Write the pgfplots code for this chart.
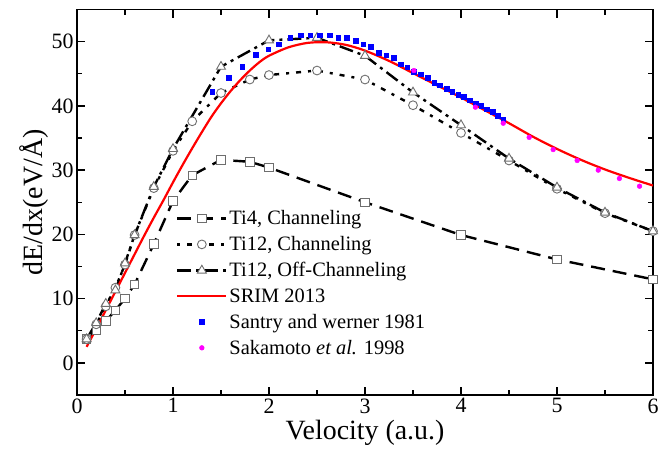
\documentclass[border=0pt]{standalone}
\usepackage{fontspec}
\setmainfont{Liberation Serif}
\usepackage{pgfplots}
\pgfplotsset{compat=1.18}
\definecolor{mkgray}{RGB}{110,110,110}
\definecolor{srimred}{RGB}{255,0,0}
\definecolor{santry}{RGB}{0,0,255}
\definecolor{saka}{RGB}{255,0,255}
\pgfplotsset{myleg/.style={legend image code/.code={\draw[mark repeat=2,mark phase=2] plot coordinates {(0cm,0cm)(0.86cm,0cm)(1.72cm,0cm)};}}}
\begin{document}
\begin{tikzpicture}
\path[use as bounding box] (-77bp,-58bp) rectangle (592bp,395bp);
\begin{axis}[
  scale only axis,
  width=576bp, height=385.5bp,
  xmin=0, xmax=6, ymin=-5, ymax=55,
  xtick={0,1,...,6}, ytick={0,10,...,50},
  minor x tick num=1, minor y tick num=1,
  tick align=inside,
  major tick length=8bp, minor tick length=5bp,
  axis line style={line width=1.6bp},
  every tick/.style={line width=1.3bp, black},
  /pgf/number format/assume math mode=true,
  tick label style={font=\fontsize{22}{24}\selectfont},
  label style={font=\fontsize{28}{30}\selectfont},
  xlabel={Velocity (a.u.)},
  ylabel={dE/dx(eV/Å)},
  xlabel style={at={(axis description cs:0.5,0)}, anchor=north, yshift=-22bp},
  ylabel style={yshift=-4bp},
  legend style={at={(0.172,0.484)}, anchor=north west, draw=none, fill=none,
    font=\fontsize{20.5}{23}\selectfont, row sep=6.3bp, inner sep=0pt},
  legend cell align=left,
  clip=true,
]
\addplot[myleg, black, line width=2.4bp, dash pattern=on 14bp off 8bp,
  mark=square*, mark size=4.2bp, mark options={solid, fill=white, draw=mkgray, line width=0.9bp}]
coordinates {(0.1,3.7)(0.2,5.1)(0.3,6.5)(0.4,8.2)(0.5,10.0)(0.6,12.2)(0.8,18.5)(1.0,25.2)(1.2,29.2)(1.5,31.6)(1.8,31.3)(2.0,30.4)(3.0,25.0)(4.0,19.9)(5.0,16.1)(6.0,13.0)};
\addlegendentry{Ti4, Channeling}
\addplot[myleg, black, line width=2.4bp, dash pattern=on 3bp off 7bp on 5bp off 7bp,
  mark=*, mark size=4.4bp, mark options={solid, fill=white, draw=mkgray, line width=0.9bp}]
coordinates {(0.1,3.7)(0.2,6.0)(0.3,8.8)(0.4,11.7)(0.5,15.3)(0.6,19.9)(0.8,27.2)(1.0,33.0)(1.2,37.6)(1.5,42.0)(1.8,44.1)(2.0,44.8)(2.5,45.5)(3.0,44.1)(3.5,40.1)(4.0,35.8)(4.5,31.5)(5.0,27.1)(5.5,23.3)(6.0,20.5)};
\addlegendentry{Ti12, Channeling}
\addplot[myleg, black, line width=2.4bp, dash pattern=on 14bp off 5bp on 3bp off 5bp,
  mark=triangle*, mark size=5.2bp, mark options={solid, fill=white, draw=mkgray, line width=0.9bp}]
coordinates {(0.1,3.7)(0.2,6.2)(0.3,9.2)(0.4,11.3)(0.5,15.5)(0.6,19.9)(0.8,27.4)(1.0,33.3)(1.5,46.1)(2.0,50.2)(2.5,50.6)(3.0,47.8)(3.5,42.1)(4.0,37.0)(4.5,31.8)(5.0,27.3)(5.5,23.4)(6.0,20.5)};
\addlegendentry{Ti12, Off-Channeling}
\addplot[myleg, srimred, line width=2.2bp, smooth]
coordinates {(0.1,2.5)(0.2,5.3)(0.3,8.2)(0.4,11.1)(0.5,14.0)(0.6,16.9)(0.7,19.8)(0.8,22.6)(0.9,25.3)(1.0,28.1)(1.1,30.8)(1.2,33.4)(1.3,35.9)(1.4,38.3)(1.5,40.4)(1.6,42.3)(1.7,44.0)(1.8,45.5)(1.9,46.8)(2.0,47.8)(2.2,49.1)(2.4,49.8)(2.6,49.9)(2.8,49.5)(3.0,48.6)(3.25,47.0)(3.5,45.1)(3.75,43.2)(4.0,41.3)(4.25,39.3)(4.5,37.3)(4.75,35.2)(5.0,33.3)(5.25,31.6)(5.5,30.1)(5.75,28.8)(6.0,27.6)};
\addlegendentry{SRIM 2013}
\addplot[myleg, only marks, mark=square*, mark size=2.3bp, color=santry]
coordinates {(1.41,42.2)(1.58,44.4)(1.72,46.1)(1.86,48.0)(1.99,48.8)(2.10,49.6)(2.22,50.6)(2.33,51.0)(2.43,51.0)(2.53,51.0)(2.63,51.0)(2.72,50.6)(2.81,50.6)(2.90,50.1)(2.98,49.6)(3.06,49.2)(3.14,48.3)(3.22,47.9)(3.30,47.5)(3.37,46.5)(3.44,46.0)(3.51,45.3)(3.58,44.9)(3.65,44.4)(3.72,43.6)(3.78,43.2)(3.85,42.7)(3.91,42.2)(3.97,41.7)(4.03,41.4)(4.09,40.9)(4.15,40.4)(4.21,40.0)(4.27,39.5)(4.33,39.1)(4.38,38.5)(4.44,37.9)};
\addlegendentry{Santry and werner 1981}
\addplot[myleg, only marks, mark=*, mark size=2.4bp, color=saka]
coordinates {(3.51,45.5)(4.15,39.8)(4.44,37.3)(4.71,35.1)(4.96,33.2)(5.21,31.5)(5.43,30.0)(5.65,28.7)(5.86,27.5)};
\addlegendentry{Sakamoto \textit{et al.} 1998}
\end{axis}
\end{tikzpicture}
\end{document}
